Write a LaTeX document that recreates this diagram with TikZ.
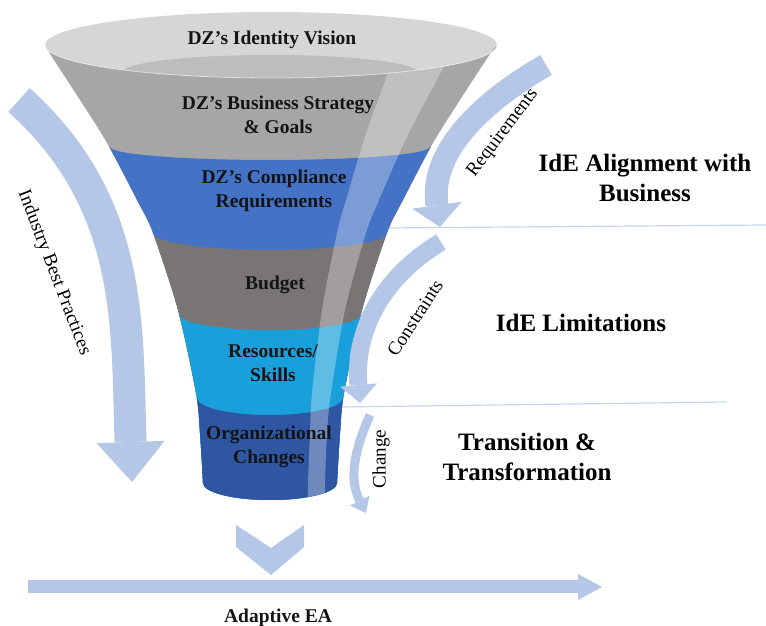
\documentclass[tikz,border=0pt]{standalone}
\usepackage{fontspec}
\setmainfont{Liberation Serif}
\usetikzlibrary{arrows.meta}

\definecolor{rimgrey}{HTML}{D6D6D6}
\definecolor{insidegrey}{HTML}{BDBDBD}
\definecolor{stratgrey}{HTML}{A6A6A6}
\definecolor{compblue}{HTML}{4472C4}
\definecolor{budgetgrey}{HTML}{7A7575}
\definecolor{skillcyan}{HTML}{19A0DA}
\definecolor{orgblue}{HTML}{2F56A3}
\definecolor{flowblue}{HTML}{B4C7E7}
\definecolor{sepline}{HTML}{C9D5E7}

\begin{document}
\begin{tikzpicture}[x=1pt,y=1pt,
    tier/.style={font=\fontsize{19.5}{23.5}\selectfont\bfseries,align=center,text=black!92},
    stage/.style={font=\fontsize{25}{30}\selectfont\bfseries,align=center},
    flowtext/.style={font=\fontsize{19}{22}\selectfont},
    flow/.style={draw=flowblue,line width=#1},
    sep/.style={draw=sepline,line width=1.2pt}]
  \useasboundingbox (0,0) rectangle (766,626);

  % separators behind the funnel
  \coordinate (s1a) at (385,398); \coordinate (s1b) at (766,401);
  \coordinate (s2a) at (340,219); \coordinate (s2b) at (727,224);
  \draw[sep] (s1a) -- (s1b);
  \draw[sep] (s2a) -- (s2b);

  % funnel mouth
  \fill[rimgrey] (271,581) ellipse [x radius=226,y radius=33];
  \fill[insidegrey] (270,554) ellipse [x radius=147,y radius=17];

  % funnel body with its bands
  \begin{scope}
    \clip (45,581) arc[start angle=180,end angle=360,x radius=226,y radius=33]
      -- plot[smooth] coordinates {(497,581) (488,569) (460,526) (433,483) (403,426) (387,393) (362,316) (344,233) (340,193) (337,143)}
      arc[start angle=0,end angle=-180,x radius=67,y radius=17]
      -- plot[smooth] coordinates {(203,143) (200,193) (196,233) (178,316) (153,393) (137,426) (107,483) (80,526) (52,569) (45,581)}
      -- cycle;
    \fill[stratgrey] (0,100) rectangle (520,600);
    \fill[compblue] (40,479) -- (110,479) arc[start angle=180,end angle=360,x radius=160,y radius=13] -- (520,479) -- (520,100) -- (40,100) -- cycle;
    \fill[budgetgrey] (40,393) -- (153,393) arc[start angle=180,end angle=360,x radius=117,y radius=17] -- (520,393) -- (520,100) -- (40,100) -- cycle;
    \fill[skillcyan] (40,311) -- (180,311) arc[start angle=180,end angle=360,x radius=90,y radius=15] -- (520,311) -- (520,100) -- (40,100) -- cycle;
    \fill[orgblue] (40,228) -- (197,228) arc[start angle=180,end angle=360,x radius=73,y radius=17] -- (520,228) -- (520,100) -- (40,100) -- cycle;
    % light streak
    \fill[white,opacity=.3] plot[smooth] coordinates {(399,581) (394,569) (378,526) (363,483) (346,426) (337,393) (322,316) (312,233) (310,193) (308,143) (308,116)}
      -- plot[smooth] coordinates {(325,116) (325,143) (327,193) (331,233) (345,316) (366,393) (379,426) (404,483) (426,526) (449,569) (455,581)}
      -- cycle;
  \end{scope}
  \draw[white,opacity=.6,line width=.8pt] (45,581) arc[start angle=180,end angle=360,x radius=226,y radius=33];

  % flow arrows
  \coordinate (ibpA) at (19,526);  \coordinate (ibpB) at (132,144);
  \coordinate (reqA) at (546,561); \coordinate (reqB) at (440,399);
  \coordinate (conA) at (441,384); \coordinate (conB) at (360,223);
  \coordinate (chgA) at (370,211); \coordinate (chgB) at (366,113);
  \coordinate (eaA) at (28,39);    \coordinate (eaB) at (602,39);
  \draw[flow=32pt,-{Triangle[width=68pt,length=40pt,line width=0pt]}] (ibpA) to[out=-42,in=92] (ibpB);
  \draw[flow=23pt,-{Triangle[width=50pt,length=22pt,line width=0pt]}] (reqA) to[out=210,in=98] (reqB);
  \draw[flow=18pt,-{Triangle[width=37pt,length=18pt,line width=0pt]}] (conA) to[out=211,in=95] (conB);
  \draw[flow=9pt,-{Triangle[width=22pt,length=14pt,line width=0pt]}] (chgA) to[out=246,in=117] (chgB);
  \draw[flow=13pt,-{Triangle[width=26pt,length=24pt,line width=0pt]}] (eaA) -- (eaB);
  \fill[flowblue] (236,101) -- (271,78) -- (304,101) -- (304,79) -- (271,51) -- (236,79) -- cycle;

  % funnel tiers
  \node[tier] (vision)     at (272,586) {DZ’s Identity Vision};
  \node[tier] (strategy)   at (278,511) {DZ’s Business Strategy\\\& Goals};
  \node[tier] (compliance) at (274,435) {DZ’s Compliance\\Requirements};
  \node[tier] (budget)     at (275,341) {Budget};
  \node[tier] (skills)     at (273,263) {Resources/\\Skills};
  \node[tier] (orgchange)  at (269,179) {Organizational\\Changes};
  \node[tier] (adaptive)   at (278,8)   {Adaptive EA};

  % stages on the right
  \node[stage] (alignment)  at (645,448) {IdE Alignment with\\Business};
  \node[stage] (limits)     at (581,303) {IdE Limitations};
  \node[stage] (transition) at (527,169) {Transition \&\\Transformation};

  % arrow captions
  \node[flowtext,rotate=-69] (ibptext) at (54,353) {Industry Best Practices};
  \node[flowtext,rotate=53]  (reqtext) at (503,493) {Requirements};
  \node[flowtext,rotate=57]  (context) at (415,308) {Constraints};
  \node[flowtext,rotate=90]  (chgtext) at (381,167) {Change};
\end{tikzpicture}
\end{document}
